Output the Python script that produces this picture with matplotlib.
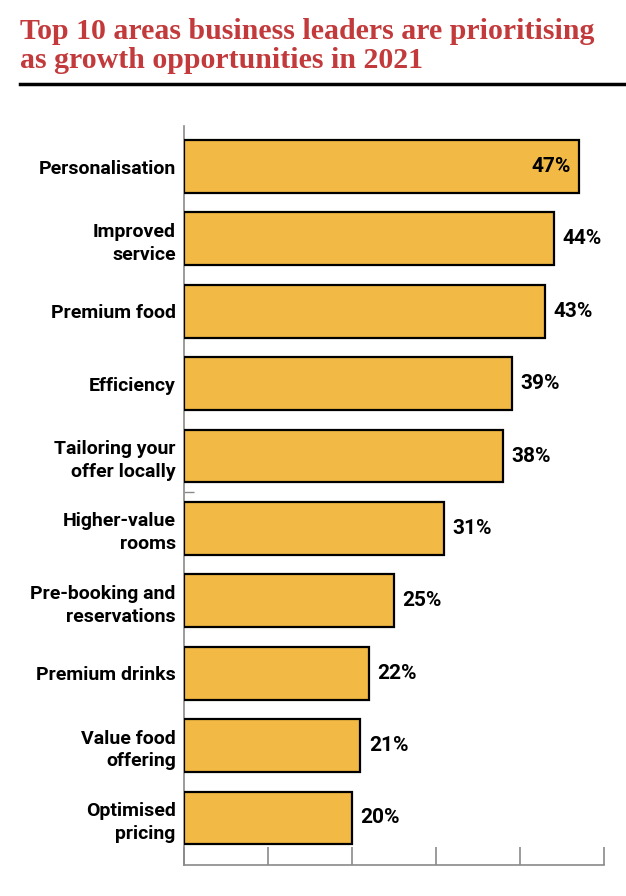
import matplotlib
matplotlib.use("Agg")
import matplotlib.pyplot as plt
from matplotlib.lines import Line2D

# chart data
categories = [
    "Personalisation",
    "Improved\nservice",
    "Premium food",
    "Efficiency",
    "Tailoring your\noffer locally",
    "Higher-value\nrooms",
    "Pre-booking and\nreservations",
    "Premium drinks",
    "Value food\noffering",
    "Optimised\npricing",
]
values = [47, 44, 43, 39, 38, 31, 25, 22, 21, 20]
x_ticks = [0, 10, 20, 30, 40, 50]

title = "Top 10 areas business leaders are prioritising\nas growth opportunities in 2021"

BAR_COLOR = "#f2b944"
TITLE_COLOR = "#c23a3b"
AXIS_COLOR = "#8a8a8a"
LABEL_FONT = "Roboto"
TITLE_FONT = "Liberation Serif"

fig = plt.figure(figsize=(6.26, 8.96), dpi=100)
ax = fig.add_axes([184 / 626, 31 / 896, 420 / 626, 739 / 896])

ypos = list(range(len(categories)))
ax.barh(ypos, values, height=0.73, color=BAR_COLOR, edgecolor="black", linewidth=1.6, zorder=3)

ax.set_xlim(0, 50)
ax.set_ylim(9.65, -0.56)

ax.set_xticks(x_ticks)
ax.set_xticklabels([])
ax.tick_params(axis="x", direction="in", length=13, width=1.2, color=AXIS_COLOR)

ax.set_yticks(ypos)
ax.set_yticklabels(categories, fontfamily=LABEL_FONT, fontweight="bold", fontsize=14,
                   linespacing=1.35, ha="right")
ax.tick_params(axis="y", length=0, pad=6)
# stray little tick between the 5th and 6th bars
ax.set_yticks([4.5], minor=True)
ax.tick_params(axis="y", which="minor", direction="in", length=7, width=1, color=AXIS_COLOR)

for side in ["top", "right"]:
    ax.spines[side].set_visible(False)
for side in ["left", "bottom"]:
    ax.spines[side].set_color(AXIS_COLOR)
    ax.spines[side].set_linewidth(1.2)

for y, v in zip(ypos, values):
    if v == max(values):
        ax.text(v - 0.9, y, f"{v}%", ha="right", va="center", fontfamily=LABEL_FONT,
                fontweight="bold", fontsize=15, zorder=4)
    else:
        ax.text(v + 1.0, y, f"{v}%", ha="left", va="center", fontfamily=LABEL_FONT,
                fontweight="bold", fontsize=15, zorder=4)

# va="baseline" pins the last line of the title
fig.text(20 / 626, 1 - 68 / 896, title, ha="left", va="baseline", color=TITLE_COLOR,
         fontfamily=TITLE_FONT, fontweight="bold", fontsize=21.5,
         linespacing=1.08)
fig.add_artist(Line2D([20 / 626, 1.0], [1 - 84 / 896, 1 - 84 / 896], color="black", linewidth=2.5,
                      transform=fig.transFigure))

plt.savefig("out.png", dpi=100)
plt.close()
